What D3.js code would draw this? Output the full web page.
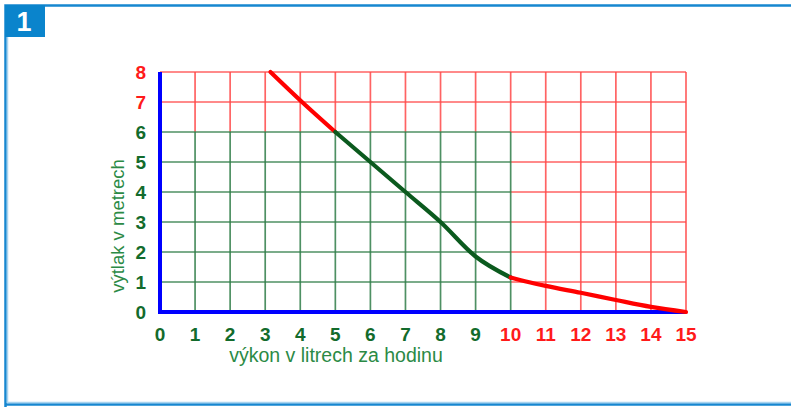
<!DOCTYPE html>
<html><head><meta charset="utf-8">
<script src="https://cdn.jsdelivr.net/npm/d3@7"></script>
<style>body{margin:0;background:#fff}svg{display:block}</style>
</head><body>
<script>
const xTicks = [0,1,2,3,4,5,6,7,8,9,10,11,12,13,14,15];
const yTicks = [0,1,2,3,4,5,6,7,8];
const xTitle = "výkon v litrech za hodinu";
const yTitle = "výtlak v metrech";
const badgeLabel = "1";
// curve pieces (x = výkon, y = výtlak)
const curveTopX = [3.15, 4.05, 5];
const curveTopY = [8, 7, 6];
const curveMidX = [5, 6, 7, 8, 9, 10];
const curveMidY = [6, 5, 4, 3, 1.85, 1.15];
const curveTailX = [10, 10.5, 11, 12, 13, 14, 15];
const curveTailY = [1.15, 1.0, 0.87, 0.64, 0.4, 0.17, 0];
const greenLimitX = 10, greenLimitY = 6;

const W = 791, H = 407;
const svg = d3.select("body").append("svg").attr("width", W).attr("height", H);

// frame
const frameColor = "#1687d0";
svg.append("path").attr("d", `M5.5,${H+2} L5.5,5.5 L${W+2},5.5`).attr("fill","none").attr("stroke",frameColor).attr("stroke-width",2.5);
svg.append("line").attr("x1",5).attr("x2",W+2).attr("y1",404.5).attr("y2",404.5).attr("stroke",frameColor).attr("stroke-width",2.5);
svg.append("line").attr("x1",7).attr("x2",W+2).attr("y1",402.5).attr("y2",402.5).attr("stroke","#a8d4f0").attr("stroke-width",1.5);
svg.append("line").attr("x1",7.5).attr("x2",7.5).attr("y1",37).attr("y2",403).attr("stroke","#a8d4f0").attr("stroke-width",1.5);
svg.append("rect").attr("x",5).attr("y",5).attr("width",40).attr("height",32).attr("fill","#0a84cc");
svg.append("text").attr("x",24).attr("y",31).attr("text-anchor","middle")
  .attr("font-family","'Liberation Sans', Arial, sans-serif").attr("font-weight","bold").attr("font-size",27)
  .attr("fill","#fff").text(badgeLabel);

const x = d3.scaleLinear().domain([0,15]).range([160,686]);
const y = d3.scaleLinear().domain([0,8]).range([312,72]);

const red = "#ff4848", green = "#2f7d48";
const g = svg.append("g");
const seg = (x1,y1,x2,y2,c) => g.append("line").attr("x1",x(x1)).attr("y1",y(y1)).attr("x2",x(x2)).attr("y2",y(y2))
  .attr("stroke",c).attr("stroke-width",1.7).attr("stroke-opacity",0.85);

// red grid
yTicks.filter(v=>v>greenLimitY).forEach(v=>seg(0,v,15,v,red));
yTicks.filter(v=>v>0 && v<=greenLimitY).forEach(v=>seg(greenLimitX,v,15,v,red));
xTicks.filter(v=>v>0 && v<=greenLimitX).forEach(v=>seg(v,greenLimitY,v,8,red));
xTicks.filter(v=>v>greenLimitX).forEach(v=>seg(v,0,v,8,red));
// green grid
yTicks.filter(v=>v>0 && v<=greenLimitY).forEach(v=>seg(0,v,greenLimitX,v,green));
xTicks.filter(v=>v>0 && v<=greenLimitX).forEach(v=>seg(v,0,v,greenLimitY,green));

// axes lines
svg.append("line").attr("x1",x(0)).attr("x2",x(0)).attr("y1",y(8)).attr("y2",y(0)+2).attr("stroke","#0000ff").attr("stroke-width",4);
svg.append("line").attr("x1",x(0)-2).attr("x2",x(15)).attr("y1",y(0)).attr("y2",y(0)).attr("stroke","#0000ff").attr("stroke-width",4);

// curve
const line = d3.line().x(d=>x(d[0])).y(d=>y(d[1])).curve(d3.curveMonotoneX);
const pieces = [
  [d3.zip(curveTopX, curveTopY), "#ff0000"],
  [d3.zip(curveMidX, curveMidY), "#0b5a1e"],
  [d3.zip(curveTailX, curveTailY), "#ff0000"]
];
pieces.forEach(([pts,c]) => svg.append("path").attr("d", line(pts)).attr("fill","none").attr("stroke",c).attr("stroke-width",4.2).attr("stroke-linecap","round"));

// tick labels
const lblFont = "'Liberation Sans Narrow', 'Arial Narrow', 'Liberation Sans', sans-serif";
const darkGreen = "#136b2c", labelRed = "#ff1a1a";
svg.append("g").selectAll("text").data(xTicks).join("text")
  .attr("x", d=>x(d)).attr("y", 341).attr("text-anchor","middle")
  .attr("font-family",lblFont).attr("font-weight","bold").attr("font-size",19)
  .attr("fill", d=> d>=greenLimitX ? labelRed : darkGreen).text(d=>d);
svg.append("g").selectAll("text").data(yTicks).join("text")
  .attr("x", 146).attr("y", d=>y(d)+7).attr("text-anchor","end")
  .attr("font-family",lblFont).attr("font-weight","bold").attr("font-size",19)
  .attr("fill", d=> d>greenLimitY ? labelRed : darkGreen).text(d=>d);

// axis titles
const titleColor = "#2b8a45";
svg.append("text").attr("x", 336).attr("y", 362).attr("text-anchor","middle")
  .attr("font-family","'Liberation Sans', Arial, sans-serif").attr("font-size",19.5).attr("fill",titleColor).text(xTitle);
svg.append("text").attr("transform","translate(124,226) rotate(-90)").attr("text-anchor","middle")
  .attr("font-family","'Liberation Sans', Arial, sans-serif").attr("font-size",18.5).attr("fill",titleColor).text(yTitle);
</script>
</body></html>
